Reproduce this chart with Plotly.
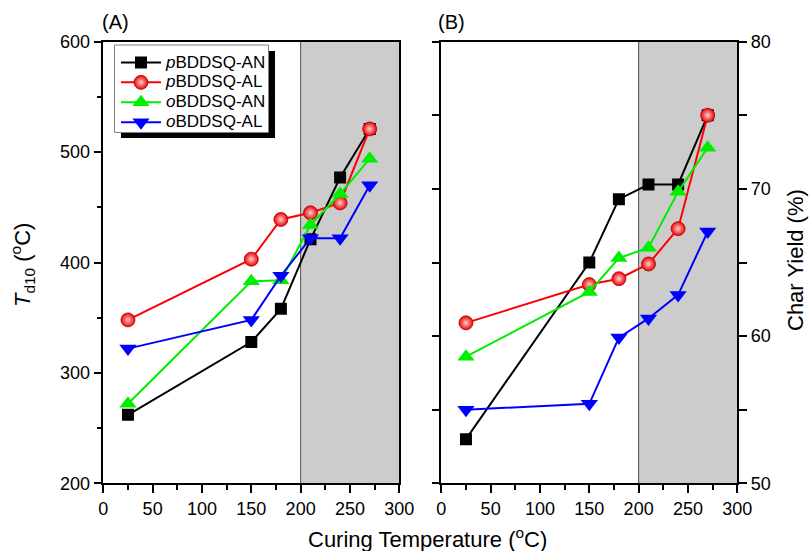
import plotly.graph_objects as go

# Curing temperatures (°C)
cure_temp = [25, 150, 180, 210, 240, 270]

# Panel A: 10 % weight-loss temperature, T_d10 (°C)
td10_p_an = [262, 328, 358, 421, 477, 521]
td10_p_al = [348, 403, 439, 445, 454, 521]
td10_o_an = [272, 383, 384, 434, 462, 494]
td10_o_al = [322, 348, 388, 422, 422, 470]

# Panel B: char yield (%)
char_p_an = [53.0, 65.0, 69.3, 70.3, 70.3, 75.0]
char_p_al = [60.9, 63.5, 63.9, 64.9, 67.3, 75.0]
char_o_an = [58.6, 63.0, 65.3, 66.0, 69.8, 72.8]
char_o_al = [55.0, 55.4, 59.9, 61.2, 62.8, 67.1]

series_names = ["<i>p</i>BDDSQ-AN", "<i>p</i>BDDSQ-AL",
                "<i>o</i>BDDSQ-AN", "<i>o</i>BDDSQ-AL"]

W, H = 809, 551
FONT = "Liberation Sans, Arial, sans-serif"

styles = [
    dict(color="#000000", marker=dict(symbol="square", size=12, color="#000000")),
    dict(color="#ff0000", marker=dict(symbol="circle", size=14, color="#ee0000",
                                      gradient=dict(type="radial", color="#ffd0d0"),
                                      line=dict(color="#b00000", width=0.8))),
    dict(color="#00ee00", marker=dict(symbol="triangle-up", size=15, color="#00ee00")),
    dict(color="#0000ff", marker=dict(symbol="triangle-down", size=15, color="#0000ff")),
]

fig = go.Figure()

panel_a = [td10_p_an, td10_p_al, td10_o_an, td10_o_al]
panel_b = [char_p_an, char_p_al, char_o_an, char_o_al]

for name, ys, st in zip(series_names, panel_a, styles):
    fig.add_trace(go.Scatter(x=cure_temp, y=ys,
                             name='<span style="font-size:17px">%s</span>' % name,
                             mode="lines+markers",
                             line=dict(color=st["color"], width=2),
                             marker=st["marker"], xaxis="x", yaxis="y",
                             legendgroup=name))
for name, ys, st in zip(series_names, panel_b, styles):
    fig.add_trace(go.Scatter(x=cure_temp, y=ys, name=name, mode="lines+markers",
                             line=dict(color=st["color"], width=2),
                             marker=st["marker"], xaxis="x2", yaxis="y2",
                             legendgroup=name, showlegend=False))

def px_x(p):
    return p / W

def px_y(p):
    return 1 - p / H

tickfont = dict(family=FONT, size=18, color="black")
xcommon = dict(range=[0, 300], dtick=50, tick0=0, showline=True, linecolor="black",
               linewidth=1.5, ticks="outside", ticklen=8, tickwidth=1.5,
               tickcolor="black", tickfont=tickfont, showgrid=False, zeroline=False,
               mirror=True,
               minor=dict(ticks="outside", dtick=25, ticklen=5, tickwidth=1.5,
                          tickcolor="black", showgrid=False))

fig.update_layout(
    width=W, height=H,
    margin=dict(l=0, r=0, t=0, b=0, autoexpand=False),
    paper_bgcolor="white", plot_bgcolor="white",
    font=dict(family=FONT, color="black"),
    xaxis=dict(domain=[px_x(103.3), px_x(399.3)], anchor="y", **xcommon),
    xaxis2=dict(domain=[px_x(441.3), px_x(737.3)], anchor="y2", **xcommon),
    yaxis=dict(domain=[px_y(483.3), px_y(41.7)], anchor="x", range=[200, 600],
               dtick=100, showline=True, linecolor="black", linewidth=1.5,
               ticks="outside", ticklen=8, tickwidth=1.5, tickcolor="black",
               tickfont=tickfont, showgrid=False, zeroline=False, mirror=True,
               minor=dict(ticks="outside", dtick=50, ticklen=5, tickwidth=1.5,
                          tickcolor="black", showgrid=False)),
    yaxis2=dict(domain=[px_y(483.3), px_y(41.7)], anchor="x2", range=[50, 80],
                dtick=10, side="right", showline=True, linecolor="black",
                linewidth=1.5, ticks="outside", ticklen=8, tickwidth=1.5,
                tickcolor="black", tickfont=tickfont, showgrid=False,
                zeroline=False, mirror="ticks",
                minor=dict(ticks="outside", dtick=5, ticklen=8, tickwidth=1.5,
                           tickcolor="black", showgrid=False)),
    legend=dict(x=px_x(116), y=px_y(47.5), xanchor="left", yanchor="top",
                bgcolor="rgba(0,0,0,0)", borderwidth=0,
                font=dict(family=FONT, size=13, color="black"),
                tracegroupgap=0, itemwidth=40),
    showlegend=True,
)

# Shaded high-temperature region (200–300 °C) in both panels
for xr, yr, y0, y1 in [("x", "y", 200, 600), ("x2", "y2", 50, 80)]:
    fig.add_shape(type="rect", xref=xr, yref=yr, x0=200, x1=300, y0=y0, y1=y1,
                  fillcolor="#cccccc", line=dict(width=0), layer="below")
    fig.add_shape(type="line", xref=xr, yref=yr, x0=200, x1=200, y0=y0, y1=y1,
                  line=dict(color="#505050", width=1), layer="below")

# Legend frame with a drop shadow
fig.add_shape(type="rect", xref="paper", yref="paper",
              x0=px_x(121), x1=px_x(275), y0=px_y(138), y1=px_y(51),
              fillcolor="black", line=dict(width=0), layer="above")
fig.add_shape(type="rect", xref="paper", yref="paper",
              x0=px_x(114.5), x1=px_x(268.5), y0=px_y(132.5), y1=px_y(45),
              fillcolor="white", line=dict(color="#808080", width=1), layer="above")

annots = [
    dict(text="(A)", x=px_x(115), y=px_y(22), size=20),
    dict(text="(B)", x=px_x(452), y=px_y(22), size=20),
    dict(text="Curing Temperature (<sup>o</sup>C)", x=px_x(427), y=px_y(538), size=22),
]
for a in annots:
    fig.add_annotation(text=a["text"], x=a["x"], y=a["y"], xref="paper", yref="paper",
                       showarrow=False, xanchor="center", yanchor="middle",
                       font=dict(family=FONT, size=a["size"], color="black"))

fig.add_annotation(text="<i>T</i><sub>d10</sub> (<sup>o</sup>C)", x=px_x(22), y=px_y(265),
                   xref="paper", yref="paper", showarrow=False, textangle=-90,
                   xanchor="center", yanchor="middle",
                   font=dict(family=FONT, size=22, color="black"))
fig.add_annotation(text="Char Yield (%)", x=px_x(795), y=px_y(260),
                   xref="paper", yref="paper", showarrow=False, textangle=-90,
                   xanchor="center", yanchor="middle",
                   font=dict(family=FONT, size=22, color="black"))

fig.write_html("out.html")
